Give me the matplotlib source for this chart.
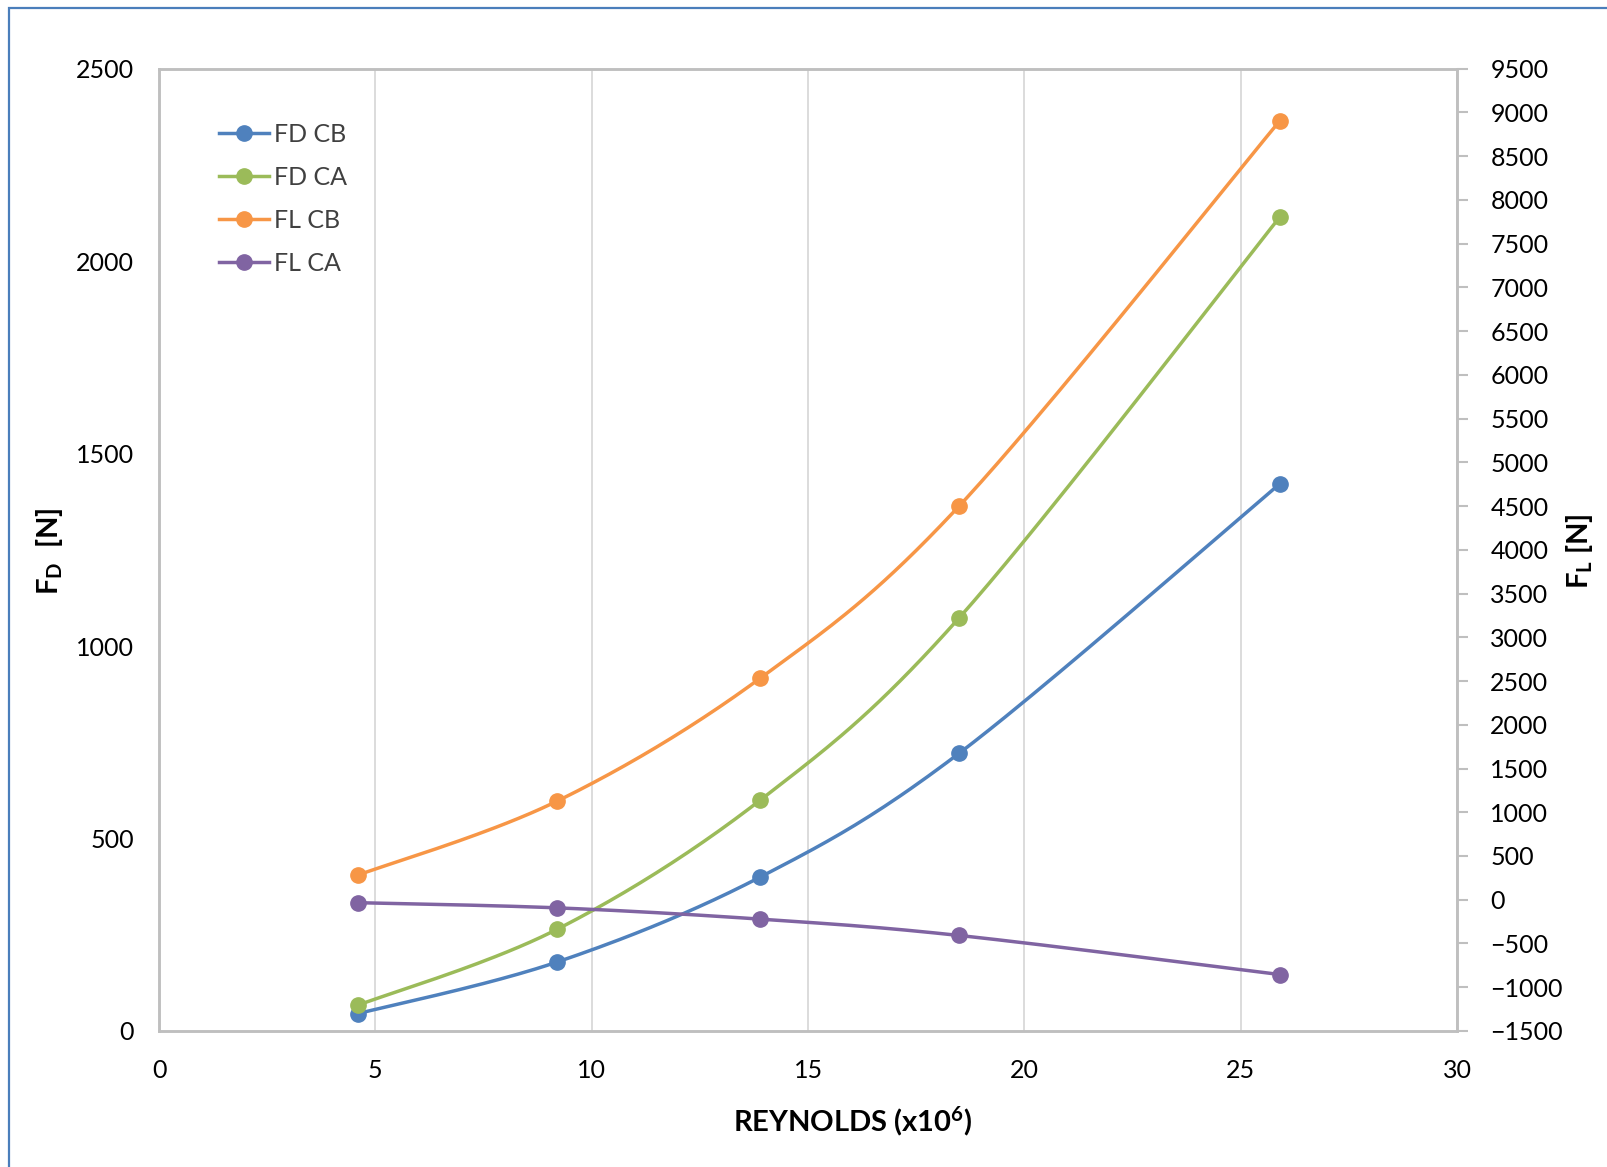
import numpy as np
import matplotlib
matplotlib.use("Agg")
import matplotlib.pyplot as plt
from matplotlib.lines import Line2D
from matplotlib.patches import Rectangle

plt.rcParams['font.family'] = ['Lato', 'DejaVu Sans']
plt.rcParams['mathtext.fontset'] = 'custom'
plt.rcParams['mathtext.rm'] = 'Lato'
plt.rcParams['mathtext.bf'] = 'Lato:bold'
plt.rcParams['mathtext.it'] = 'Lato:italic'

# data
reynolds = [4.6, 9.2, 13.9, 18.5, 25.9]
fd_cb = [45, 179, 400, 722, 1421]
fd_ca = [67, 264, 600, 1074, 2114]
fl_cb = [282, 1127, 2534, 4504, 8902]
fl_ca = [-34, -93, -222, -409, -855]

x_ticks = [0, 5, 10, 15, 20, 25, 30]
left_ticks = [0, 500, 1000, 1500, 2000, 2500]
right_ticks = list(range(-1500, 9501, 500))

c_blue = '#4F81BD'
c_green = '#9BBB59'
c_orange = '#F79646'
c_purple = '#8064A2'
spine_c = '#bfbfbf'


def smooth(xs, ys, n=40):
    # excel style smoothing: bezier with catmull-rom control points
    p = np.column_stack([xs, ys]).astype(float)
    p = np.vstack([p[0], p, p[-1]])
    out = []
    t = np.linspace(0, 1, n)[:, None]
    for i in range(1, len(p) - 2):
        p0, p1, p2, p3 = p[i - 1], p[i], p[i + 1], p[i + 2]
        c1 = p1 + (p2 - p0) / 6
        c2 = p2 - (p3 - p1) / 6
        seg = ((1 - t) ** 3) * p1 + 3 * ((1 - t) ** 2) * t * c1 + 3 * (1 - t) * t ** 2 * c2 + t ** 3 * p2
        out.append(seg if i == 1 else seg[1:])
    s = np.vstack(out)
    return s[:, 0], s[:, 1]


fig = plt.figure(figsize=(16.08, 11.67), dpi=100)
ax = fig.add_axes([0.0989, 0.1166, 0.8072, 0.8245])
ax2 = ax.twinx()

lw = 2.5
ms = 11
series = [
    (ax, fd_cb, c_blue, 'FD CB'),
    (ax, fd_ca, c_green, 'FD CA'),
    (ax2, fl_cb, c_orange, 'FL CB'),
    (ax2, fl_ca, c_purple, 'FL CA'),
]
handles = []
for a, ys, col, lab in series:
    sx, sy = smooth(reynolds, ys)
    a.plot(sx, sy, color=col, lw=lw, solid_capstyle='round', zorder=3)
    a.plot(reynolds, ys, 'o', color=col, ms=ms, zorder=4)
    handles.append(Line2D([], [], color=col, lw=lw, marker='o', ms=ms, label=lab))

ax.set_xlim(0, 30)
ax.set_ylim(0, 2500)
ax2.set_ylim(-1500, 9500)
ax.set_xticks(x_ticks)
ax.set_yticks(left_ticks)
ax2.set_yticks(right_ticks)

ax.grid(axis='x', color='#d9d9d9', lw=1.3)
ax.set_axisbelow(True)

for a in (ax, ax2):
    for sp in a.spines.values():
        sp.set_color(spine_c)
        sp.set_linewidth(1.8)

ax.tick_params(axis='y', length=0, pad=18, labelsize=18)
ax.tick_params(axis='x', length=0, pad=20, labelsize=18)
ax2.tick_params(axis='y', length=8, width=1.5, color=spine_c, pad=16, labelsize=18)

fig.text(0.031, 0.528, r'F$_\mathbf{D}$  [N]', rotation=90, fontsize=21,
         fontweight='bold', ha='center', va='center')
fig.text(0.982, 0.528, r'F$_\mathbf{L}$ [N]', rotation=90, fontsize=21,
         fontweight='bold', ha='center', va='center')
fig.text(0.530, 0.0395, r'REYNOLDS (x10$^\mathbf{6}$)', fontsize=21,
         fontweight='bold', ha='center', va='center')

leg = ax.legend(handles=handles, loc='upper left', bbox_to_anchor=(0.136, 0.895),
                bbox_transform=fig.transFigure, frameon=False, fontsize=18,
                handlelength=2.0, handletextpad=0.2, labelspacing=0.8,
                borderpad=0, borderaxespad=0)
for t in leg.get_texts():
    t.set_color('#404040')

# chart area border
fig.patches.append(Rectangle((9 / 1608, -0.1), 1.2, 1 - 8 / 1167 + 0.1,
                             transform=fig.transFigure, fill=False,
                             edgecolor='#4a7ebb', lw=1.6))

fig.savefig('out.png', dpi=100)
